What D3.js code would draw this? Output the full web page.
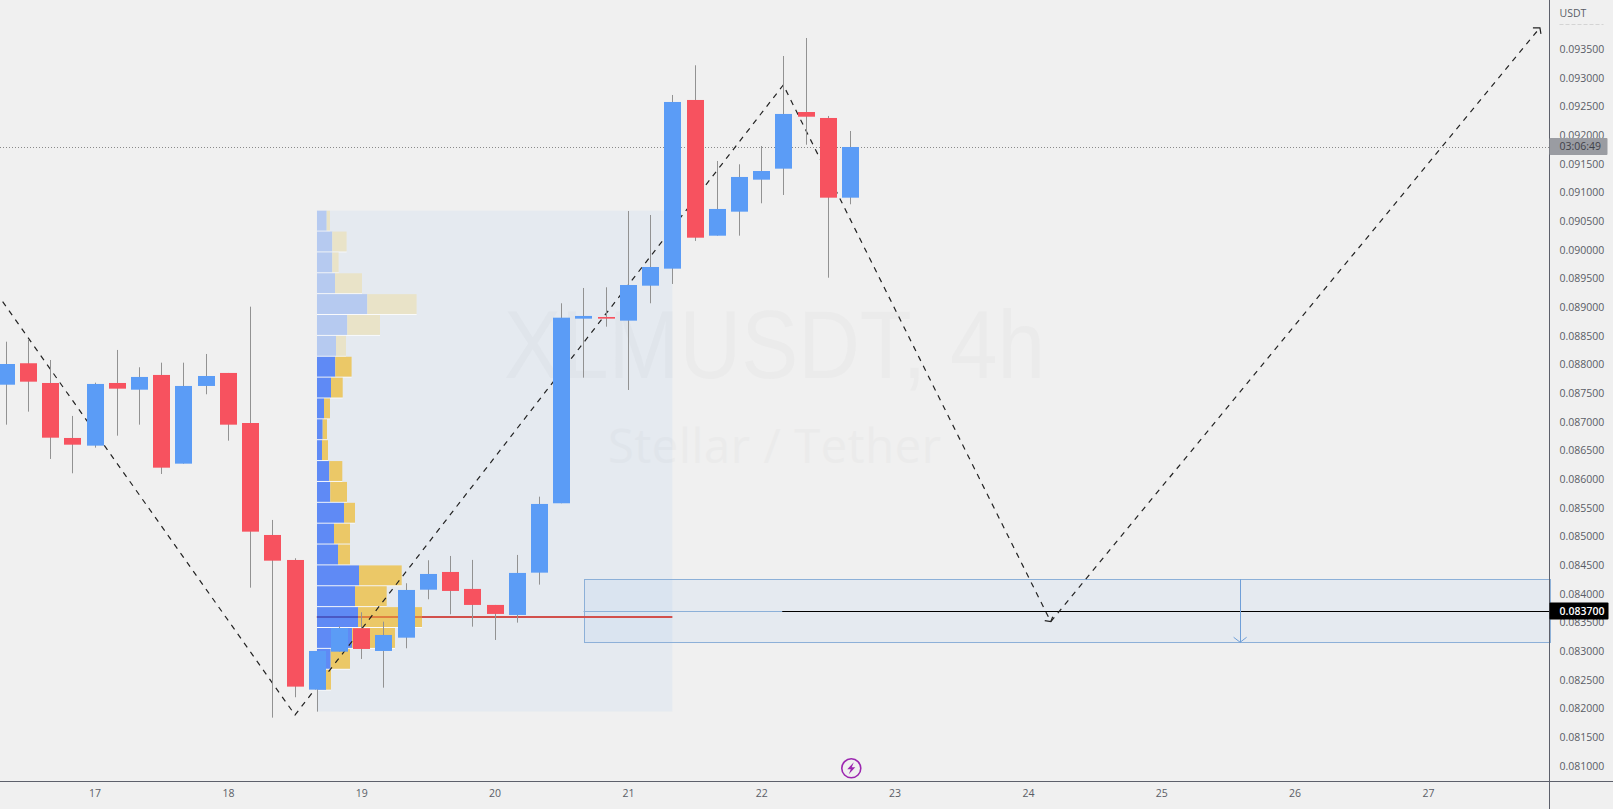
<!DOCTYPE html>
<html>
<head>
<meta charset="utf-8">
<script src="https://cdn.jsdelivr.net/npm/d3@7"></script>
<style>
  html, body { margin: 0; padding: 0; background: #f0f0f0; overflow: hidden; }
  text { font-family: "Open Sans", sans-serif; }
</style>
</head>
<body>
<div id="chart"></div>
<script>
// 4h candles, first one is at day 16 08:00
const firstCandleDay = 16 + 2 / 6;
const opens = [.087645,.088019,.087675,.086716,.086582,.087675,.087558,.087815,.086268,.087623,.087850,.086977,.085024,.084588,.082327,.082989,.083397,.083001,.083233,.084070,.084379,.084083,.083804,.083629,.084367,.085577,.088797,.088826,.088762,.089372,.089669,.092611,.090244,.090663,.091221,.091413,.092401,.092297,.090907];
const highs = [.088395,.088425,.088076,.087100,.087680,.088251,.087949,.088029,.088029,.088181,.087850,.089006,.085286,.084618,.083001,.083430,.083676,.083512,.084182,.084583,.084658,.084589,.083804,.084676,.085692,.089065,.089332,.089344,.090675,.090605,.092698,.093216,.091547,.091489,.091808,.093378,.093692,.092332,.092070];
const lows = [.086948,.087175,.086350,.086100,.086547,.086756,.086948,.086088,.086268,.087478,.086669,.084105,.081838,.082194,.081943,.082989,.082862,.082361,.083048,.083903,.083641,.083425,.083193,.083495,.084158,.085577,.087768,.088657,.087553,.089065,.089402,.090152,.090244,.090244,.090809,.090954,.091831,.089511,.090792];
const closes = [.088006,.087698,.086721,.086599,.087658,.087576,.087780,.086198,.087623,.087797,.086948,.085082,.084576,.082379,.083001,.083402,.083036,.083280,.084065,.084344,.084048,.083804,.083647,.084362,.085565,.088814,.088844,.088797,.089384,.089698,.092576,.090209,.090710,.091268,.091372,.092367,.092319,.090907,.091791];

// fixed range volume profile
const profileTopPrice = .09068;
const profileBottomPrice = .081946;
const profileStartDay = 18 + 4 / 6;
const profileEndDay = 21 + 2 / 6;
const profileBuy = [9.7,15.3,15.3,18,50.3,30.3,19,18.3,14,7,5.7,5,12.3,13.3,27,17,21,42,38,41,35,13.7,9,0];
const profileSell = [3.3,14.3,6.3,27,49.3,32.7,10,16.3,11.7,6,4.3,6,13,16.7,11,16,12,42.7,31.7,64,43,19.3,5,0];
const fadedRows = 7;
const pocPrice = .083595;

// hand drawn path
const pathDays = [16.305,18.498,22.16,24.166,27.835];
const pathPrices = [.089093,.081885,.092872,.083512,.09387];

// short position box
const boxStartDay = 20.667;
const entryStartDay = 22.157;
const arrowDay = 25.588;
const boxTop = .084252;
const boxBottom = .083153;
const entryPrice = .0837;

const lastPrice = .091791;
const countdown = '03:06:49';
const eventDay = 22.67;

const dayTicks = [17,18,19,20,21,22,23,24,25,26,27];
const priceTicks = [.081,.0815,.082,.0825,.083,.0835,.084,.0845,.085,.0855,.086,.0865,.087,.0875,.088,.0885,.089,.0895,.09,.0905,.091,.0915,.092,.0925,.093,.0935];

const width = 1613, height = 809;
const axisX = 1549.5, axisY = 781.5;
const upColor = '#5b9cf6', downColor = '#f7525f';

const x = d3.scaleLinear().domain([17, 27]).range([94.6, 1427.9]);
const y = d3.scaleLinear().domain([.0935, .081]).range([49, 765.7]);
const volX = d3.scaleLinear().domain([0, 100]).range([317, 417]);

const svg = d3.select('#chart').append('svg')
  .attr('width', width)
  .attr('height', height)
  .style('display', 'block');

svg.append('rect').attr('width', width).attr('height', height).attr('fill', '#f0f0f0');

// watermark
svg.append('text')
  .attr('x', 504).attr('y', 378)
  .attr('textLength', 541)
  .attr('lengthAdjust', 'spacingAndGlyphs')
  .attr('font-size', 97)
  .style('font-family', '"Liberation Sans", sans-serif')
  .attr('fill', '#ebebeb')
  .text('XLMUSDT, 4h');
svg.append('text')
  .attr('x', 608).attr('y', 463)
  .attr('textLength', 333)
  .attr('font-size', 47)
  .attr('fill', '#ebebeb')
  .text('Stellar / Tether');

// profile background
const tint = 'rgba(83,160,235,0.07)';
svg.append('rect')
  .attr('x', x(profileStartDay))
  .attr('y', y(profileTopPrice))
  .attr('width', x(profileEndDay) - x(profileStartDay))
  .attr('height', y(profileBottomPrice) - y(profileTopPrice))
  .attr('fill', tint);

// position box
svg.append('rect')
  .attr('x', Math.round(x(boxStartDay)) + 0.5)
  .attr('y', Math.round(y(boxTop)) + 0.5)
  .attr('width', axisX - x(boxStartDay))
  .attr('height', y(boxBottom) - y(boxTop))
  .attr('fill', tint)
  .attr('stroke', '#8cb0d8')
  .attr('stroke-width', 1);

// volume rows
const rowPx = (y(profileBottomPrice) - y(profileTopPrice)) / profileBuy.length;
const rowTop = i => y(profileTopPrice) + i * rowPx;

const rows = svg.append('g').selectAll('g')
  .data(profileBuy)
  .enter()
  .append('g');

rows.append('rect')
  .attr('x', volX(0))
  .attr('y', (d, i) => rowTop(i) + rowPx - 1)
  .attr('width', (d, i) => d + profileSell[i] > 0 ? volX(d + profileSell[i]) - volX(0) : 0)
  .attr('height', 1)
  .attr('fill', '#fff')
  .attr('opacity', 0.8);
rows.append('rect')
  .attr('x', volX(0))
  .attr('y', (d, i) => rowTop(i))
  .attr('width', d => volX(d) - volX(0))
  .attr('height', rowPx - 1)
  .attr('fill', (d, i) => i < fadedRows ? '#b6caf0' : '#5f8af5');
rows.append('rect')
  .attr('x', d => volX(d))
  .attr('y', (d, i) => rowTop(i))
  .attr('width', (d, i) => volX(profileSell[i]) - volX(0))
  .attr('height', rowPx - 1)
  .attr('fill', (d, i) => i < fadedRows ? '#e9e3c8' : '#ebc867');

// point of control, goes darker where it crosses the bars
svg.append('line')
  .attr('x1', x(profileStartDay))
  .attr('x2', x(profileEndDay))
  .attr('y1', y(pocPrice))
  .attr('y2', y(pocPrice))
  .attr('stroke', '#d2504c')
  .attr('stroke-width', 2);
svg.append('line')
  .attr('x1', volX(0))
  .attr('x2', volX(profileBuy[19]))
  .attr('y1', y(pocPrice))
  .attr('y2', y(pocPrice))
  .attr('stroke', '#4a58c4')
  .attr('stroke-width', 2);
svg.append('line')
  .attr('x1', volX(profileBuy[19]))
  .attr('x2', volX(profileBuy[19] + profileSell[19]))
  .attr('y1', y(pocPrice))
  .attr('y2', y(pocPrice))
  .attr('stroke', '#e0803f')
  .attr('stroke-width', 2);

// entry line of the position, blue part then black
svg.append('line')
  .attr('x1', x(boxStartDay))
  .attr('x2', x(entryStartDay))
  .attr('y1', Math.round(y(entryPrice)) + 0.5)
  .attr('y2', Math.round(y(entryPrice)) + 0.5)
  .attr('stroke', '#8cb0d8');
svg.append('line')
  .attr('x1', x(entryStartDay))
  .attr('x2', axisX)
  .attr('y1', Math.round(y(entryPrice)) + 0.5)
  .attr('y2', Math.round(y(entryPrice)) + 0.5)
  .attr('stroke', '#000')
  .attr('stroke-width', 1.2);

// arrow inside the box
svg.append('line')
  .attr('x1', Math.round(x(arrowDay)) + 0.5)
  .attr('x2', Math.round(x(arrowDay)) + 0.5)
  .attr('y1', y(boxTop))
  .attr('y2', y(boxBottom))
  .attr('stroke', '#6f9fd8');
svg.append('path')
  .attr('d', `M${x(arrowDay) - 6},${y(boxBottom) - 5}L${x(arrowDay) + 0.5},${y(boxBottom)}L${x(arrowDay) + 7},${y(boxBottom) - 5}`)
  .attr('fill', 'none')
  .attr('stroke', '#6f9fd8');

// last price
svg.append('line')
  .attr('x1', 0)
  .attr('x2', axisX)
  .attr('y1', Math.round(y(lastPrice)) + 0.5)
  .attr('y2', Math.round(y(lastPrice)) + 0.5)
  .attr('stroke', '#8a8a8a')
  .attr('stroke-dasharray', '1,2');

// dashed path
const pathLine = d3.line()
  .x(d => x(d) + 0.7)
  .y((d, i) => y(pathPrices[i]));

svg.append('path')
  .attr('d', pathLine(pathDays))
  .attr('fill', 'none')
  .attr('stroke', '#222')
  .attr('stroke-width', 1.2)
  .attr('stroke-dasharray', '5.5,5.5');

// small arrow heads at the end of the two last legs
const headA = [x(pathDays[3]) + 0.7, y(pathPrices[3])];
const headB = [x(pathDays[4]) + 0.7, y(pathPrices[4])];
svg.append('path')
  .attr('d', `M${headA[0] - 6},${headA[1] - 1}L${headA[0]},${headA[1]}L${headA[0] + 2},${headA[1] - 5}`)
  .attr('fill', 'none').attr('stroke', '#222').attr('stroke-width', 1.2);
svg.append('path')
  .attr('d', `M${headB[0] - 7},${headB[1]}L${headB[0]},${headB[1]}L${headB[0] + 1},${headB[1] + 6}`)
  .attr('fill', 'none').attr('stroke', '#222').attr('stroke-width', 1.2);

// candles
const candleWidth = 17;
const candleX = i => x(firstCandleDay + i / 6);

const candles = svg.append('g').selectAll('g')
  .data(opens)
  .enter()
  .append('g');

candles.append('line')
  .attr('x1', (d, i) => Math.round(candleX(i)) + 0.5)
  .attr('x2', (d, i) => Math.round(candleX(i)) + 0.5)
  .attr('y1', (d, i) => y(highs[i]))
  .attr('y2', (d, i) => y(lows[i]))
  .attr('stroke', '#929292');

candles.append('rect')
  .attr('x', (d, i) => Math.round(candleX(i)) - 8)
  .attr('y', (d, i) => y(Math.max(d, closes[i])))
  .attr('width', candleWidth)
  .attr('height', (d, i) => Math.abs(y(d) - y(closes[i])))
  .attr('fill', (d, i) => closes[i] >= d ? upColor : downColor);

// event icon
const icon = svg.append('g').attr('transform', `translate(${x(eventDay) + 0.7},768.3)`);
icon.append('circle')
  .attr('r', 9.5)
  .attr('fill', '#f0f0f0')
  .attr('stroke', '#9c27b0')
  .attr('stroke-width', 1.6);
icon.append('path')
  .attr('d', 'M2.5,-6L-4,1H-0.5L-2.5,6L4,-1H0.5Z')
  .attr('fill', '#9c27b0');

// axes
const yAxis = d3.axisRight(y)
  .tickValues(priceTicks)
  .tickFormat(d3.format('.6f'))
  .tickSize(0)
  .tickPadding(10);

const xAxis = d3.axisBottom(x)
  .tickValues(dayTicks)
  .tickFormat(d3.format('d'))
  .tickSize(0)
  .tickPadding(8);

const yAxisG = svg.append('g').attr('transform', `translate(${axisX},0)`).call(yAxis);
const xAxisG = svg.append('g').attr('transform', `translate(0,${axisY})`).call(xAxis);

[yAxisG, xAxisG].forEach(g => {
  g.select('.domain').remove();
  g.selectAll('text')
    .style('font-family', '"Open Sans", sans-serif')
    .style('font-size', '10.5px')
    .attr('fill', '#5a5d66');
});

svg.append('line')
  .attr('x1', axisX).attr('x2', axisX)
  .attr('y1', 0).attr('y2', height)
  .attr('stroke', '#5d606b');
svg.append('line')
  .attr('x1', 0).attr('x2', width)
  .attr('y1', axisY).attr('y2', axisY)
  .attr('stroke', '#5d606b');

// currency label
svg.append('text')
  .attr('x', axisX + 10).attr('y', 17)
  .attr('font-size', 10.5)
  .attr('fill', '#5a5d66')
  .text('USDT');
svg.append('line')
  .attr('x1', axisX + 10).attr('x2', axisX + 54)
  .attr('y1', 24.5).attr('y2', 24.5)
  .attr('stroke', '#d4d4d4')
  .attr('stroke-dasharray', '4,2');

// countdown tag
svg.append('rect')
  .attr('x', axisX).attr('y', y(lastPrice) - 9)
  .attr('width', 58).attr('height', 17)
  .attr('rx', 1)
  .attr('fill', '#9a9ca2');
svg.append('text')
  .attr('x', axisX + 10).attr('y', y(lastPrice) + 3.5)
  .attr('font-size', 10.5)
  .attr('fill', '#3f4149')
  .text(countdown);

// entry tag
svg.append('rect')
  .attr('x', axisX).attr('y', y(entryPrice) - 8.5)
  .attr('width', 59).attr('height', 17)
  .attr('rx', 1)
  .attr('fill', '#000');
svg.append('text')
  .attr('x', axisX + 10).attr('y', y(entryPrice) + 4)
  .attr('font-size', 10.5)
  .attr('font-weight', 600)
  .attr('fill', '#fff')
  .text(d3.format('.6f')(entryPrice));
</script>
</body>
</html>
